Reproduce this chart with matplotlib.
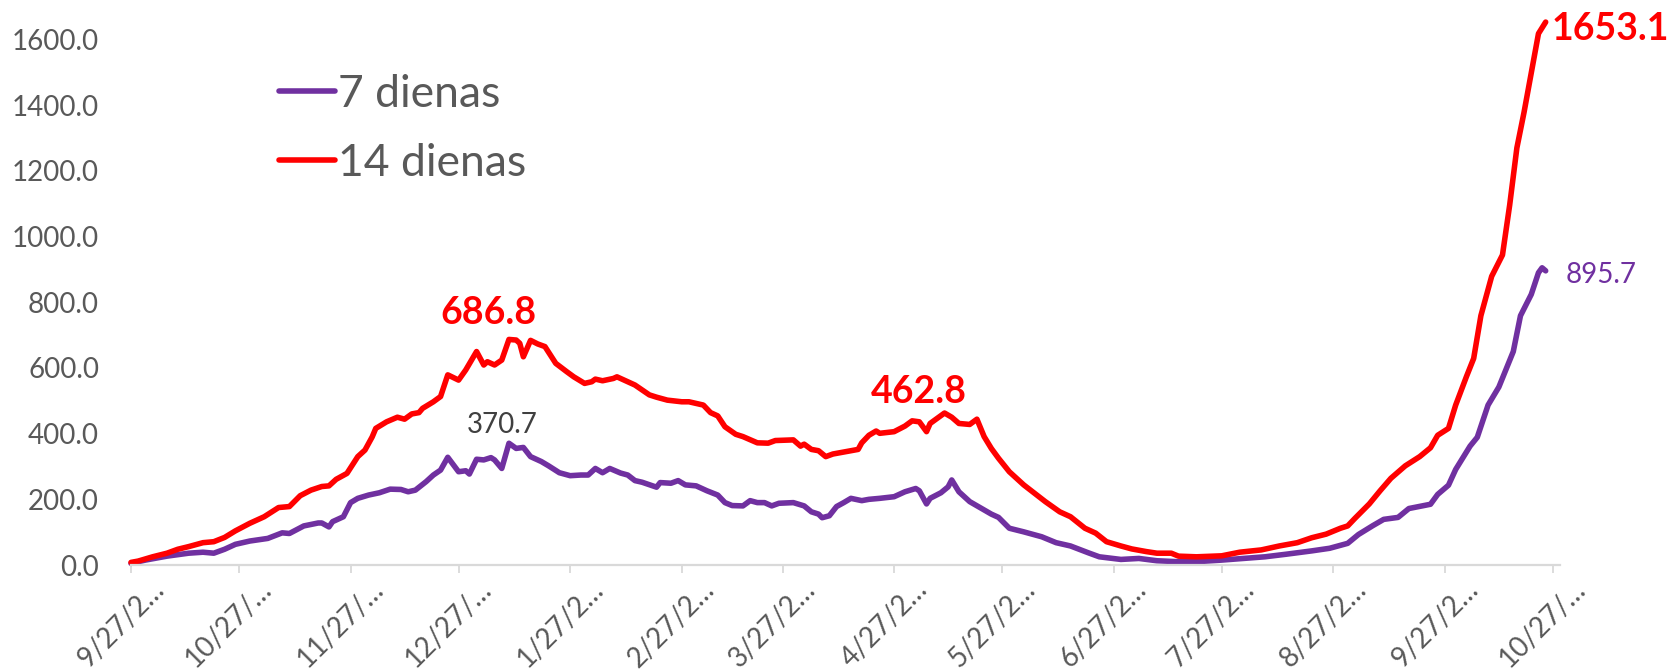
import matplotlib
matplotlib.use("Agg")
import matplotlib.pyplot as plt
import matplotlib.transforms as mtransforms
import pandas as pd

# ---------------- data ----------------
START = "2020-09-27"
series_names = ["7 dienas", "14 dienas"]

days_7 = [0, 4, 10, 16, 20, 23, 26, 29, 33, 38,
          42, 44, 48, 52, 53, 55, 56, 59, 61, 63,
          66, 69, 72, 75, 77, 79, 82, 84, 86, 88,
          91, 93, 94, 96, 98, 100, 101, 103, 105, 107,
          109, 111, 114, 116, 119, 122, 125, 127, 129, 131,
          133, 136, 138, 140, 142, 146, 147, 150, 152, 154,
          157, 160, 163, 165, 167, 170, 172, 174, 176, 178,
          180, 184, 187, 189, 191, 192, 194, 196, 198, 200,
          203, 205, 208, 212, 215, 218, 219, 221, 222, 225,
          227, 228, 230, 233, 236, 239, 241, 244, 248, 253,
          257, 261, 266, 269, 275, 280, 285, 291, 296, 303,
          309, 315, 321, 328, 333, 338, 341, 345, 348, 352,
          355, 361, 363, 366, 368, 372, 374, 377, 380, 384,
          386, 389, 391, 392, 393]
vals_7 = [5, 15, 27, 36, 39, 36, 48, 63, 73, 81,
          98, 96, 119, 128, 128, 116, 132, 147, 190, 203,
          213, 220, 231, 230, 223, 228, 254, 274, 289, 328,
          284, 287, 277, 322, 320, 327, 320, 294, 370.7, 355,
          358, 330, 315, 302, 281, 272, 274, 274, 294, 281,
          294, 280, 274, 257, 252, 237, 251, 249, 257, 244,
          241, 226, 213, 190, 181, 180, 196, 190, 190, 180,
          188, 190, 180, 162, 155, 144, 150, 178, 190, 203,
          196, 200, 203, 208, 223, 233, 226, 186, 203, 220,
          238, 259, 223, 193, 174, 155, 145, 112, 101, 86,
          68, 58, 37, 25, 17, 20, 13, 10, 10, 15,
          20, 25, 33, 43, 51, 66, 93, 120, 139, 145,
          172, 185, 215, 243, 291, 362, 389, 487, 542, 650,
          759, 824, 890, 905, 895.7]

days_14 = [0, 2, 6, 10, 13, 16, 20, 23, 26, 29,
           33, 37, 41, 44, 47, 50, 53, 55, 57, 60,
           63, 65, 67, 68, 71, 74, 76, 78, 80, 81,
           84, 86, 88, 91, 93, 96, 98, 99, 101, 103,
           105, 107, 108, 109, 111, 113, 115, 118, 121, 123,
           126, 128, 129, 131, 134, 135, 138, 140, 142, 144,
           146, 149, 153, 155, 159, 161, 163, 165, 168, 170,
           174, 177, 179, 184, 186, 187, 189, 191, 193, 195,
           198, 202, 203, 205, 207, 208, 212, 215, 217, 219,
           221, 222, 224, 226, 228, 230, 233, 235, 237, 239,
           241, 244, 246, 248, 252, 254, 258, 261, 265, 268,
           271, 275, 278, 282, 285, 289, 291, 296, 303, 308,
           314, 319, 324, 328, 332, 336, 338, 340, 344, 347,
           350, 354, 358, 361, 363, 366, 368, 371, 373, 375,
           378, 381, 383, 385, 387, 389, 391, 393]
vals_14 = [8, 12, 25, 36, 48, 56, 68, 71, 84, 104,
           127, 147, 175, 178, 211, 228, 239, 241, 261, 279,
           330, 350, 390, 416, 436, 450, 444, 460, 464, 477,
           497, 513, 579, 563, 594, 650, 609, 619, 609, 624,
           686.8, 685, 675, 634, 684, 673, 665, 614, 589, 573,
           553, 558, 566, 561, 568, 573, 558, 548, 533, 518,
           511, 502, 497, 497, 487, 464, 454, 421, 398, 391,
           372, 371, 379, 381, 362, 368, 352, 348, 330, 338,
           344, 352, 372, 395, 408, 401, 406, 423, 439, 436,
           406, 431, 447, 462.8, 450, 431, 428, 444, 391, 355,
           325, 284, 264, 244, 210, 193, 162, 147, 112, 97,
           71, 58, 49, 41, 36, 36, 27, 25, 28, 39,
           46, 58, 68, 83, 94, 112, 119, 142, 186, 226,
           264, 302, 330, 357, 395, 416, 487, 574, 629, 759,
           879, 944, 1096, 1270, 1379, 1499, 1618, 1653.1]

tick_dates = ["2020-09-27", "2020-10-27", "2020-11-27", "2020-12-27",
              "2021-01-27", "2021-02-27", "2021-03-27", "2021-04-27",
              "2021-05-27", "2021-06-27", "2021-07-27", "2021-08-27",
              "2021-09-27", "2021-10-27"]
tick_labels = ["9/27/2…", "10/27/…", "11/27/…", "12/27/…", "1/27/2…",
               "2/27/2…", "3/27/2…", "4/27/2…", "5/27/2…", "6/27/2…",
               "7/27/2…", "8/27/2…", "9/27/2…", "10/27/…"]
y_ticks = [0, 200, 400, 600, 800, 1000, 1200, 1400, 1600]

# ---------------- style ----------------
PURPLE = "#7030A0"
RED = "#FF0000"
GRAY = "#595959"
AXIS = "#D9D9D9"
plt.rcParams["font.family"] = ["Lato", "DejaVu Sans"]

start = pd.Timestamp(START)
x7 = start + pd.to_timedelta(days_7, unit="D")
x14 = start + pd.to_timedelta(days_14, unit="D")

fig = plt.figure(figsize=(16.73, 6.72), dpi=100)
ax = fig.add_axes([0.0783, 0.1592, 0.8542, 0.782])

l7, = ax.plot(x7, vals_7, color=PURPLE, lw=4.0, solid_joinstyle="round",
              solid_capstyle="round", clip_on=False, label=series_names[0])
l14, = ax.plot(x14, vals_14, color=RED, lw=4.0, solid_joinstyle="round",
               solid_capstyle="round", clip_on=False, label=series_names[1])

ax.set_xlim(start, pd.Timestamp("2021-10-29"))
ax.set_ylim(0, 1600)
ax.set_yticks(y_ticks)
ax.set_yticklabels([f"{v:.1f}" for v in y_ticks])
ax.set_xticks(pd.to_datetime(tick_dates))
ax.set_xticklabels(tick_labels, rotation=45, ha="center", va="top")

for s in ["top", "right", "left"]:
    ax.spines[s].set_visible(False)
ax.spines["bottom"].set_color(AXIS)
ax.spines["bottom"].set_linewidth(1.6)
ax.tick_params(axis="y", length=0, pad=23, labelsize=20, labelcolor=GRAY)
ax.tick_params(axis="x", direction="out", length=6, width=1.3, color=AXIS,
               pad=2, labelsize=20, labelcolor=GRAY)
offset = mtransforms.ScaledTranslation(-0.1, 0, fig.dpi_scale_trans)
for lab in ax.get_xticklabels():
    lab.set_transform(lab.get_transform() + offset)

# data labels
def lab(day, val, text, dx, dy, color, weight, size, ha="center"):
    ax.annotate(text, xy=(start + pd.Timedelta(days=day), val), xytext=(dx, dy),
                textcoords="offset points", ha=ha, va="baseline",
                color=color, fontweight=weight, fontsize=size, annotation_clip=False)

lab(105, 686.8, "686.8", -14.5, 11, RED, "bold", 27)
lab(105, 370.7, "370.7", -4.5, 7.7, "#404040", "normal", 20)
lab(226, 462.8, "462.8", -18.5, 7.5, RED, "bold", 27)
lab(393, 1653.1, "1653.1", 4.6, -12.7, RED, "bold", 27, ha="left")
lab(393, 895.7, "895.7", 14.6, -8.5, PURPLE, "normal", 20, ha="left")

ax.legend(handles=[l7, l14], loc="upper left",
          bbox_to_anchor=(279 / 1673, 1 - 74 / 672), bbox_transform=fig.transFigure,
          frameon=False, fontsize=32, labelcolor=GRAY, handlelength=1.26,
          handletextpad=0.06, labelspacing=0.62, borderpad=0, borderaxespad=0)

fig.savefig("out.png", dpi=100)
